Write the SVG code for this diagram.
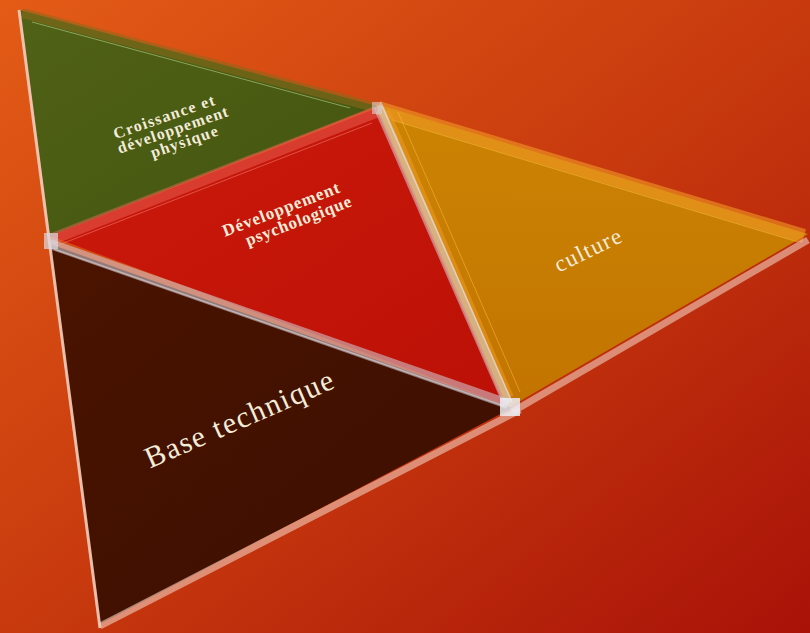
<svg xmlns="http://www.w3.org/2000/svg" width="810" height="633" viewBox="0 0 810 633">
  <defs>
    <linearGradient id="bg" x1="0" y1="0" x2="1" y2="1">
      <stop offset="0" stop-color="#e35c16"/>
      <stop offset="0.5" stop-color="#c83a0e"/>
      <stop offset="1" stop-color="#a81208"/>
    </linearGradient>
    <linearGradient id="gGreen" x1="0" y1="0" x2="1" y2="1">
      <stop offset="0" stop-color="#506216"/>
      <stop offset="1" stop-color="#44540f"/>
    </linearGradient>
    <linearGradient id="gRed" x1="0" y1="0" x2="1" y2="1">
      <stop offset="0" stop-color="#cc1a0c"/>
      <stop offset="1" stop-color="#bc1006"/>
    </linearGradient>
    <linearGradient id="gOrange" x1="0" y1="0" x2="0" y2="1">
      <stop offset="0" stop-color="#cc8404"/>
      <stop offset="1" stop-color="#c27400"/>
    </linearGradient>
    <linearGradient id="gBrown" x1="0" y1="0" x2="1" y2="1">
      <stop offset="0" stop-color="#4a1400"/>
      <stop offset="1" stop-color="#3c0e00"/>
    </linearGradient>
    <style>
      .lbl { font-family: "Liberation Serif", "DejaVu Serif", serif; fill: #f3ecd9; text-anchor: middle; }
      .bold { font-weight: bold; }
      .bar { stroke: #d4d0d8; stroke-opacity: 0.55; stroke-width: 10; stroke-linecap: butt; fill: none; }
      .barline { stroke: #f2eef2; stroke-opacity: 0.5; stroke-width: 1.5; fill: none; }
      .frame { stroke: #f2cdbd; fill: none; }
    </style>
  </defs>

  <rect x="0" y="0" width="810" height="633" fill="url(#bg)"/>

  <g id="green">
    <polygon points="20,10 377,106 50,236" fill="url(#gGreen)"/>
    <line x1="22" y1="13" x2="374" y2="107" stroke="#8a6a1c" stroke-opacity="0.55" stroke-width="10"/>
    <line x1="32" y1="22" x2="350" y2="108" stroke="#b6d28a" stroke-opacity="0.6" stroke-width="1"/>
    <g transform="translate(173,131) rotate(-19)">
      <text class="lbl bold" x="-4" y="-11" font-size="16" textLength="106" lengthAdjust="spacing">Croissance et</text>
      <text class="lbl bold" x="0" y="4" font-size="16" textLength="116" lengthAdjust="spacing">développement</text>
      <text class="lbl bold" x="7" y="19" font-size="16" textLength="70" lengthAdjust="spacing">physique</text>
    </g>
  </g>

  <g id="red">
    <polygon points="50,236 377,108 508,406" fill="url(#gRed)"/>
    <line x1="52" y1="239" x2="376" y2="112" stroke="#ee6a5a" stroke-opacity="0.45" stroke-width="12"/>
    <line x1="56" y1="246" x2="372" y2="123" stroke="#f49080" stroke-opacity="0.5" stroke-width="1"/>
    <g transform="translate(290,216) rotate(-21)">
      <text class="lbl bold" x="-6" y="-4" font-size="17" textLength="124" lengthAdjust="spacing">Développement</text>
      <text class="lbl bold" x="6" y="13" font-size="17" textLength="112" lengthAdjust="spacing">psychologique</text>
    </g>
  </g>

  <g id="orange">
    <polygon points="376,104 808,234 508,408" fill="url(#gOrange)"/>
    <line x1="378" y1="108" x2="804" y2="236" stroke="#f09a24" stroke-opacity="0.6" stroke-width="14"/>
    <line x1="392" y1="120" x2="798" y2="242" stroke="#ffc040" stroke-opacity="0.55" stroke-width="1"/>
    <line x1="384" y1="112" x2="508" y2="398" stroke="#f09a24" stroke-opacity="0.55" stroke-width="12"/>
    <line x1="398" y1="112" x2="520" y2="392" stroke="#ffc040" stroke-opacity="0.5" stroke-width="1"/>
    <g transform="translate(591,257) rotate(-26)">
      <text class="lbl" x="0" y="0" font-size="23" textLength="72" lengthAdjust="spacing">culture</text>
    </g>
  </g>

  <g id="brown">
    <polygon points="50,244 512,408 100,624" fill="url(#gBrown)"/>
    <g transform="translate(243,428) rotate(-23.5)">
      <text class="lbl" x="0" y="0" font-size="30" textLength="203" lengthAdjust="spacing">Base technique</text>
    </g>
  </g>

  <g id="connectors">
    <line class="bar" x1="50" y1="244" x2="508" y2="404"/>
    <line class="barline" x1="54" y1="249" x2="504" y2="406"/>
    <line class="bar" x1="378" y1="106" x2="508" y2="404"/>
    <line class="barline" x1="382" y1="106" x2="512" y2="402"/>
    <line class="frame" x1="19" y1="10" x2="100" y2="628" stroke-width="3" stroke-opacity="0.9"/>
    <line class="frame" x1="100" y1="626" x2="520" y2="410" stroke-width="7" stroke-opacity="0.6"/>
    <line class="frame" x1="512" y1="412" x2="808" y2="240" stroke-width="7" stroke-opacity="0.6"/>
    <rect x="44" y="233" width="14" height="16" fill="#dcdce4" fill-opacity="0.7"/>
    <rect x="500" y="398" width="20" height="18" fill="#ececf2" fill-opacity="0.85"/>
    <rect x="372" y="102" width="10" height="12" fill="#dcd0d4" fill-opacity="0.6"/>
  </g>
</svg>
